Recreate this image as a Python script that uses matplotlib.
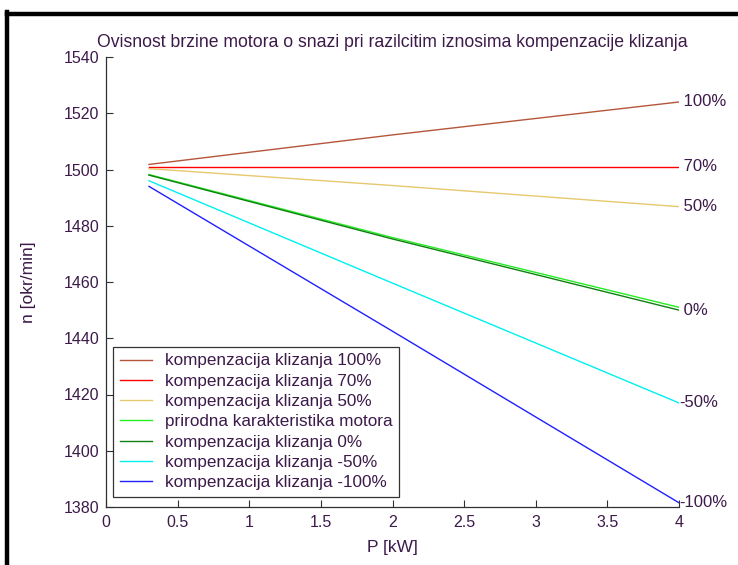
import matplotlib
matplotlib.use("Agg")
import matplotlib.pyplot as plt
from matplotlib.lines import Line2D

plt.rcParams['font.family'] = ['Liberation Sans', 'DejaVu Sans']

# Data
P = [0.3, 2.0, 4.0]
n_100 = [1501.8, 1512.3, 1524.0]
n_70 = [1501.0, 1501.0, 1501.0]
n_50 = [1500.3, 1494.3, 1486.8]
n_prir = [1498.2, 1475.8, 1451.0]
n_0 = [1498.0, 1475.3, 1450.0]
n_m50 = [1496.0, 1459.6, 1417.0]
n_m100 = [1494.0, 1442.5, 1381.5]

series = [
    ("kompenzacija klizanja 100%", n_100, "#b5563c", " 100%"),
    ("kompenzacija klizanja 70%", n_70, "#ff0000", " 70%"),
    ("kompenzacija klizanja 50%", n_50, "#e6c86e", " 50%"),
    ("prirodna karakteristika motora", n_prir, "#22ee22", None),
    ("kompenzacija klizanja 0%", n_0, "#108010", " 0%"),
    ("kompenzacija klizanja -50%", n_m50, "#00f0f0", "-50%"),
    ("kompenzacija klizanja -100%", n_m100, "#2020ff", "-100%"),
]

xticks = [0, 0.5, 1, 1.5, 2, 2.5, 3, 3.5, 4]
yticks = [1380, 1400, 1420, 1440, 1460, 1480, 1500, 1520, 1540]

txt = "#3c1a4a"

fig = plt.figure(figsize=(7.38, 5.65), dpi=100)
fig.patch.set_facecolor("white")

# figure frame lines (top and left)
fig.add_artist(Line2D([7 / 738, 1.0], [1 - 13.5 / 565] * 2, color="black", lw=3.2, transform=fig.transFigure))
fig.add_artist(Line2D([7 / 738] * 2, [0, 1 - 12 / 565], color="black", lw=3.2, transform=fig.transFigure))

ax = fig.add_axes([106 / 738, 1 - 507 / 565, (679 - 106) / 738, (507 - 57) / 565])

for label, vals, col, end in series:
    ax.plot(P, vals, color=col, lw=1.0, label=label)
    if end is not None:
        ax.text(P[-1], vals[-1], end, ha="left", va="center", fontsize=12, color=txt, clip_on=False)

ax.set_xlim(0, 4)
ax.set_ylim(1380, 1540)
ax.set_xticks(xticks)
ax.set_xticklabels([("%g" % t) for t in xticks])
ax.set_yticks(yticks)
ax.set_yticklabels([str(t) for t in yticks])
ax.tick_params(direction="in", length=5, width=0.8, colors="#303030", labelcolor=txt, labelsize=11.5)
ax.tick_params(axis="x", pad=6)
ax.tick_params(axis="y", pad=5)
for s in ["top", "right"]:
    ax.spines[s].set_visible(False)
for s in ["left", "bottom"]:
    ax.spines[s].set_color("#303030")
    ax.spines[s].set_linewidth(0.9)

ax.set_title("Ovisnost brzine motora o snazi pri razilcitim iznosima kompenzacije klizanja",
             fontsize=12.7, color=txt, pad=7)
ax.set_xlabel("P [kW]", fontsize=12.5, color=txt, labelpad=7)
ax.set_ylabel("n [okr/min]", fontsize=12.5, color=txt, labelpad=20)

leg = ax.legend(loc="lower left", bbox_to_anchor=(0.012, 0.022), fontsize=12.3, frameon=True,
                fancybox=False, edgecolor="black", handlelength=1.9, handletextpad=0.75,
                borderpad=0.4, labelspacing=0.31, borderaxespad=0)
leg.get_frame().set_linewidth(0.9)
for t in leg.get_texts():
    t.set_color(txt)

fig.savefig("out.png", dpi=100)
